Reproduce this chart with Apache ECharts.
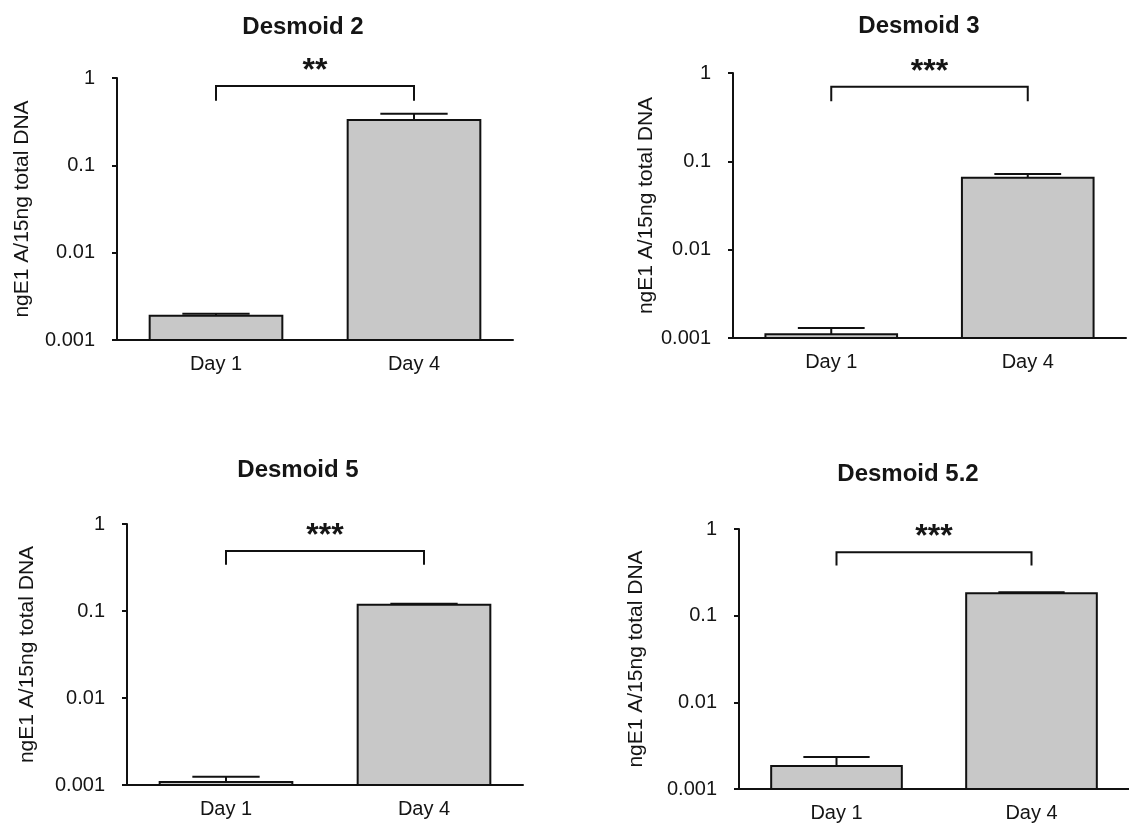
<!DOCTYPE html>
<html><head><meta charset="utf-8">
<script src="https://cdn.jsdelivr.net/npm/echarts@6/dist/echarts.min.js"></script>
<style>html,body{margin:0;padding:0;background:#fff}#c{width:1129px;height:832px}</style>
</head><body><div id="c"></div>
<script>
// ---- data ----
const categories = ['Day 1', 'Day 4'];
const panelTitles = ['Desmoid 2', 'Desmoid 3', 'Desmoid 5', 'Desmoid 5.2'];
const yTickLabels = ['0.001', '0.01', '0.1', '1'];
const yAxisTitle = 'ngE1 A/15ng total DNA';
const yMin = 0.001;
const yMax = 1;
const meanD2 = [0.0019, 0.33];
const errD2 = [0.0001, 0.06];
const meanD3 = [0.0011, 0.065];
const errD3 = [0.0002, 0.007];
const meanD5 = [0.00108, 0.118];
const errD5 = [0.00016, 0.003];
const meanD52 = [0.00184, 0.182];
const errD52 = [0.0005, 0.004];
const sigLabels = ['**', '***', '***', '***'];
const bracketTop = [0.81, 0.70, 0.49, 0.54];
const bracketLeg = [0.55, 0.48, 0.34, 0.38];

const means = [meanD2, meanD3, meanD5, meanD52];
const errs = [errD2, errD3, errD5, errD52];

// ---- layout / style ----
const FONT = '"Liberation Sans", Arial, sans-serif';
const INK = '#151515';
const grids = [
  {left: 117, top: 78, width: 396, height: 262},
  {left: 733, top: 73, width: 393, height: 265},
  {left: 127, top: 524, width: 396, height: 261},
  {left: 739, top: 529, width: 393, height: 260}
];
const nameGaps = [84, 75, 89, 92];
const titlePos = [[303, 27], [919, 26], [298, 470], [908, 474]];

function bandWidth(api, v) {
  return api.coord([1, v])[0] - api.coord([0, v])[0];
}
function renderBar(params, api) {
  const i = api.value(0);
  const top = api.coord([i, api.value(1)]);
  const base = api.coord([i, yMin]);
  const bw = bandWidth(api, api.value(1)) * 0.67;
  return {type: 'rect', shape: {x: top[0] - bw / 2, y: top[1], width: bw, height: base[1] - top[1]},
    style: {fill: '#c8c8c8', stroke: '#111', lineWidth: 2}};
}
function renderErr(params, api) {
  const i = api.value(0);
  const p0 = api.coord([i, api.value(1)]);
  const p1 = api.coord([i, api.value(2)]);
  const hw = bandWidth(api, api.value(1)) * 0.17;
  return {type: 'group', children: [
    {type: 'line', shape: {x1: p0[0], y1: p0[1], x2: p1[0], y2: p1[1]}, style: {stroke: '#111', lineWidth: 2}},
    {type: 'line', shape: {x1: p1[0] - hw, y1: p1[1], x2: p1[0] + hw, y2: p1[1]}, style: {stroke: '#111', lineWidth: 2}}
  ]};
}
function makeBracketRenderer(label) {
  return function (params, api) {
    const a = api.value(0), b = api.value(1);
    const t0 = api.coord([a, api.value(2)]);
    const t1 = api.coord([b, api.value(2)]);
    const l0 = api.coord([a, api.value(3)]);
    const l1 = api.coord([b, api.value(3)]);
    return {type: 'group', children: [
      {type: 'polyline', shape: {points: [l0, t0, t1, l1]}, style: {stroke: '#111', lineWidth: 2, fill: null}},
      {type: 'text', style: {text: label, x: (t0[0] + t1[0]) / 2, y: t0[1] - 15, align: 'center',
        verticalAlign: 'middle', font: 'bold 32px ' + FONT, fill: INK}}
    ]};
  };
}

const xAxes = [], yAxes = [], series = [], graphics = [];
grids.forEach((g, gi) => {
  xAxes.push({type: 'category', gridIndex: gi, data: categories, boundaryGap: true,
    axisLine: {lineStyle: {color: '#111', width: 2}}, axisTick: {show: false},
    axisLabel: {fontSize: 20, fontFamily: FONT, color: INK, margin: 14}});
  yAxes.push({type: 'log', logBase: 10, gridIndex: gi, min: yMin, max: yMax, splitNumber: 3,
    name: yAxisTitle, nameLocation: 'middle', nameGap: nameGaps[gi],
    nameTextStyle: {fontSize: 21, fontFamily: FONT, color: INK},
    axisLine: {show: true, lineStyle: {color: '#111', width: 2}},
    axisTick: {show: true, length: 5, lineStyle: {color: '#111', width: 2}},
    minorTick: {show: false}, splitLine: {show: false},
    axisLabel: {fontSize: 20, fontFamily: FONT, color: INK, margin: 22,
      formatter: v => yTickLabels[Math.round(Math.log10(v)) + 3]}});
  series.push({type: 'custom', xAxisIndex: gi, yAxisIndex: gi, z: 2, renderItem: renderBar,
    encode: {x: 0, y: 1}, data: categories.map((c, i) => [i, means[gi][i]])});
  series.push({type: 'custom', xAxisIndex: gi, yAxisIndex: gi, z: 3, renderItem: renderErr,
    encode: {x: 0, y: [1, 2]}, data: categories.map((c, i) => [i, means[gi][i], means[gi][i] + errs[gi][i]])});
  series.push({type: 'custom', xAxisIndex: gi, yAxisIndex: gi, z: 3, renderItem: makeBracketRenderer(sigLabels[gi]),
    encode: {x: [0, 1], y: [2, 3]}, data: [[0, 1, bracketTop[gi], bracketLeg[gi]]]});
  graphics.push({type: 'text', x: titlePos[gi][0], y: titlePos[gi][1],
    style: {text: panelTitles[gi], align: 'center', verticalAlign: 'middle', font: 'bold 24px ' + FONT, fill: INK}});
});

const chart = echarts.init(document.getElementById('c'), null, {renderer: 'canvas'});
chart.setOption({
  animation: false,
  backgroundColor: '#ffffff',
  grid: grids.map(g => Object.assign({containLabel: false}, g)),
  xAxis: xAxes,
  yAxis: yAxes,
  series: series,
  graphic: graphics
});
</script>
</body></html>
